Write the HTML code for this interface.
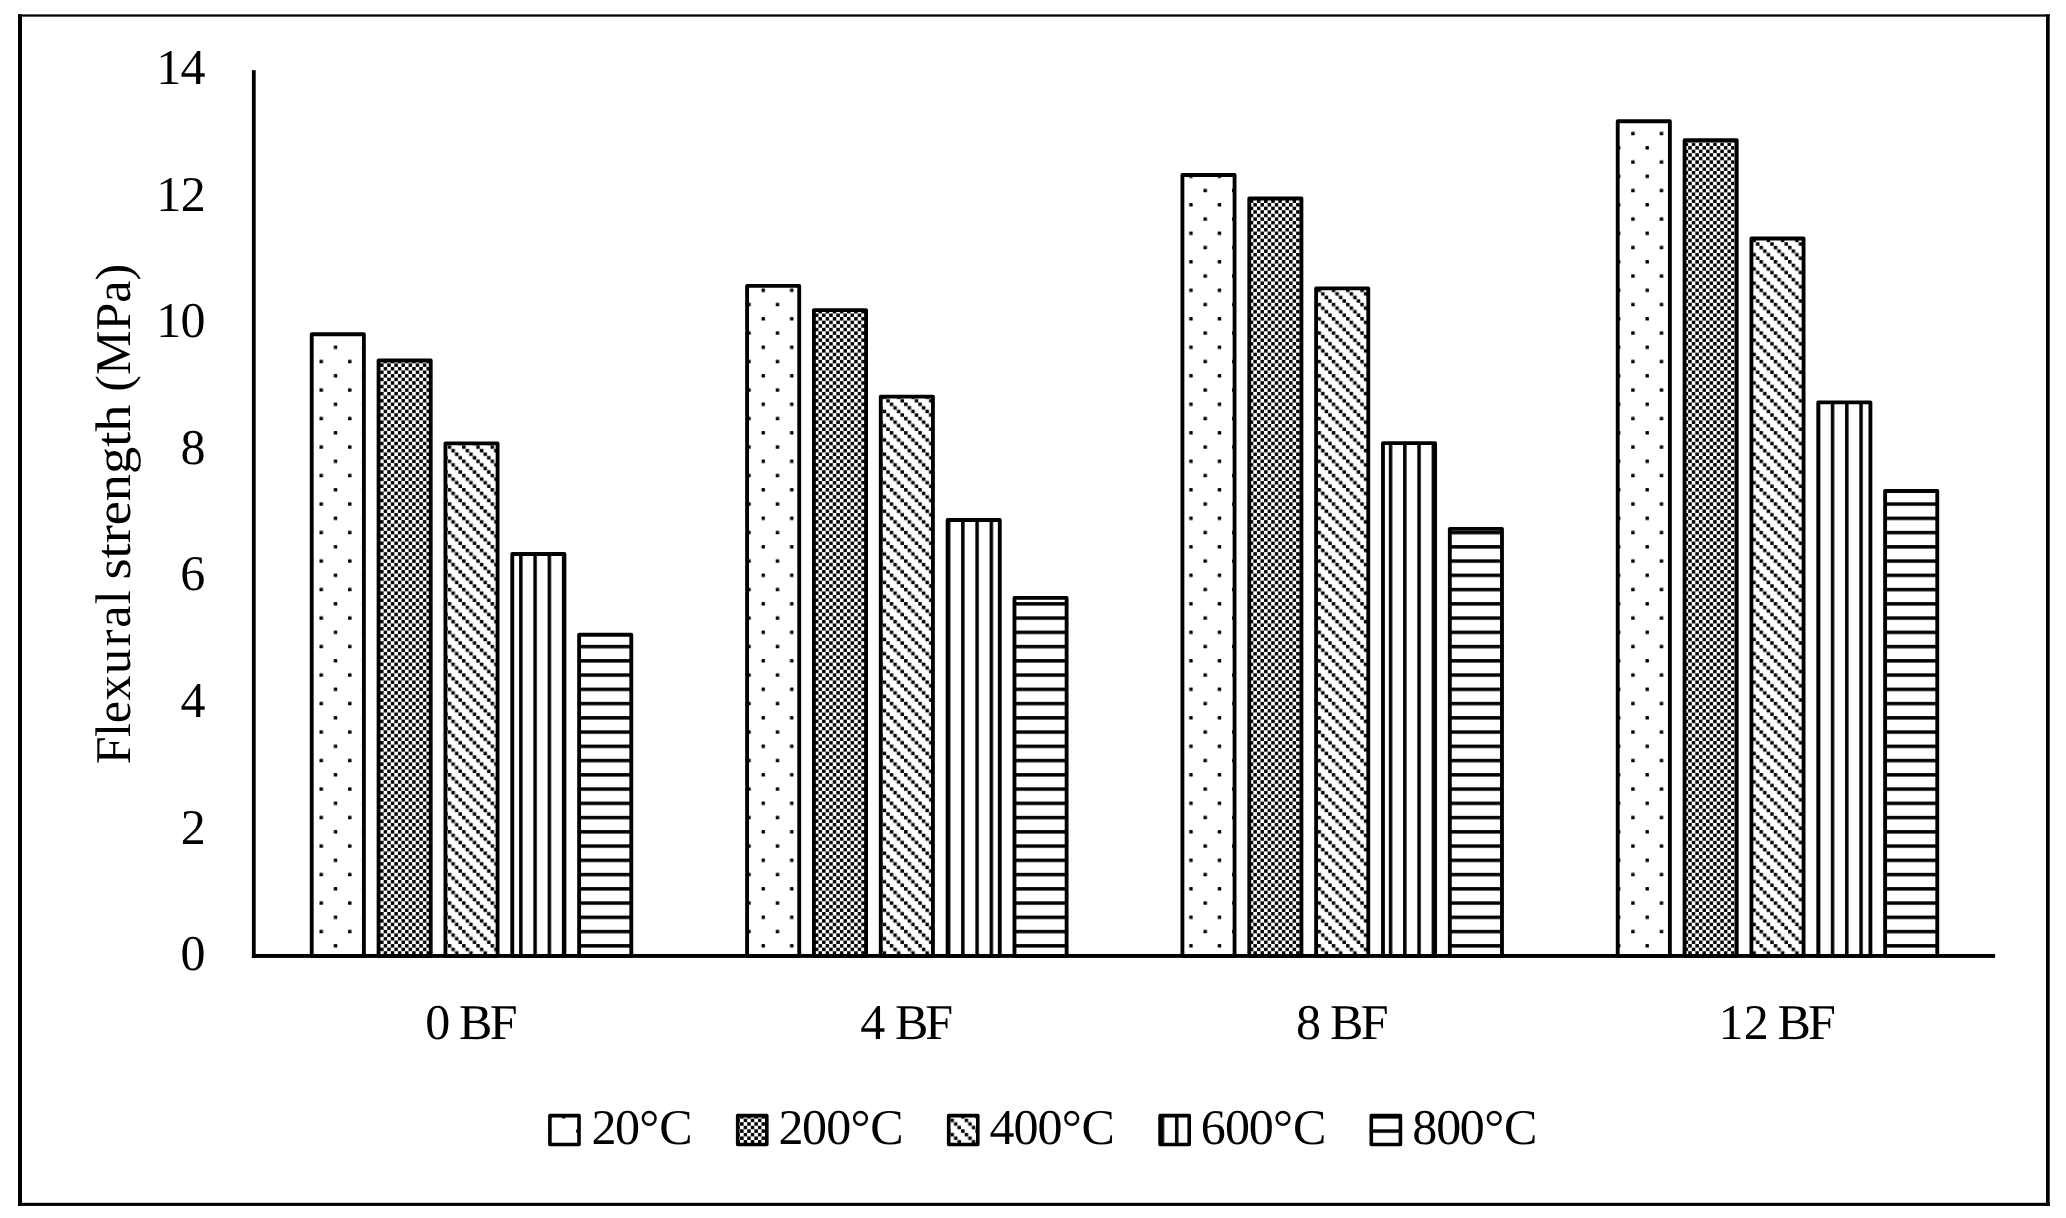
<!DOCTYPE html>
<html lang="en"><head><meta charset="utf-8"><title>Flexural strength chart</title>
<style>html,body{margin:0;padding:0;background:#fff;}svg{display:block;}text{font-family:"Liberation Serif","DejaVu Serif",serif;font-size:50px;fill:#000;text-rendering:geometricPrecision;}</style></head><body>
<svg width="2066" height="1218" viewBox="0 0 2066 1218">
<defs><pattern id="pDot" patternUnits="userSpaceOnUse" x="5.8" y="3.56" width="28.5152" height="28.5"><rect width="28.5152" height="28.5" fill="#fff"/><rect x="14.3148" y="0.0562" width="3.45" height="3.45" rx="0.6" fill="#000"/><rect x="0.0572" y="14.3063" width="3.45" height="3.45" rx="0.6" fill="#000"/></pattern><pattern id="pChk" patternUnits="userSpaceOnUse" x="5.8" y="3.56" width="7.1288" height="7.125"><rect width="7.1288" height="7.125" fill="#fff"/><rect x="0.0572" y="0.0562" width="3.45" height="3.45" fill="#000"/><rect x="3.6216" y="3.6187" width="3.45" height="3.45" fill="#000"/></pattern><pattern id="pDia" patternUnits="userSpaceOnUse" x="5.8" y="3.56" width="14.2576" height="14.25"><rect width="14.2576" height="14.25" fill="#fff"/><rect x="0.0572" y="0.0562" width="3.45" height="3.45" fill="#000"/><rect x="3.6216" y="3.6187" width="3.45" height="3.45" fill="#000"/><rect x="7.186" y="7.1813" width="3.45" height="3.45" fill="#000"/><rect x="10.7504" y="10.7438" width="3.45" height="3.45" fill="#000"/></pattern><pattern id="pVer" patternUnits="userSpaceOnUse" x="5.8" y="3.56" width="14.2576" height="14.25"><rect width="14.2576" height="14.25" fill="#fff"/><rect x="0.06" y="0" width="3.45" height="14.25" fill="#000"/></pattern><pattern id="pHor" patternUnits="userSpaceOnUse" x="5.8" y="3.56" width="14.2576" height="14.25"><rect width="14.2576" height="14.25" fill="#fff"/><rect x="0" y="0.06" width="14.2576" height="3.45" fill="#000"/></pattern></defs>
<rect x="0" y="0" width="2066" height="1218" fill="#fff"/>
<g fill="#000">
<rect x="18" y="14.3" width="4" height="1191.6"/>
<rect x="18" y="14.4" width="2031.7" height="2.25"/>
<rect x="2046" y="14.3" width="3.7" height="1191.6"/>
<rect x="18" y="1202.8" width="2031.7" height="3.1"/>
</g>
<g stroke="#000" stroke-width="3.85" stroke-linejoin="round">
<rect x="311.73" y="334.23" width="52.15" height="621.77" fill="url(#pDot)"/>
<rect x="378.57" y="360.53" width="52.15" height="595.47" fill="url(#pChk)"/>
<rect x="445.43" y="443.32" width="52.15" height="512.67" fill="url(#pDia)"/>
<rect x="512.27" y="554.02" width="52.15" height="401.98" fill="url(#pVer)"/>
<rect x="579.12" y="634.72" width="52.15" height="321.28" fill="url(#pHor)"/>
<rect x="747.08" y="285.88" width="52.15" height="670.12" fill="url(#pDot)"/>
<rect x="813.92" y="310.12" width="52.15" height="645.88" fill="url(#pChk)"/>
<rect x="880.77" y="396.68" width="52.15" height="559.33" fill="url(#pDia)"/>
<rect x="947.62" y="520.02" width="52.15" height="435.98" fill="url(#pVer)"/>
<rect x="1014.47" y="597.92" width="52.15" height="358.08" fill="url(#pHor)"/>
<rect x="1182.42" y="175.03" width="52.15" height="780.98" fill="url(#pDot)"/>
<rect x="1249.28" y="198.53" width="52.15" height="757.48" fill="url(#pChk)"/>
<rect x="1316.12" y="288.32" width="52.15" height="667.67" fill="url(#pDia)"/>
<rect x="1382.97" y="443.12" width="52.15" height="512.88" fill="url(#pVer)"/>
<rect x="1449.83" y="528.88" width="52.15" height="427.12" fill="url(#pHor)"/>
<rect x="1617.72" y="121.22" width="52.15" height="834.77" fill="url(#pDot)"/>
<rect x="1684.58" y="140.23" width="52.15" height="815.77" fill="url(#pChk)"/>
<rect x="1751.42" y="238.53" width="52.15" height="717.48" fill="url(#pDia)"/>
<rect x="1818.27" y="402.38" width="52.15" height="553.62" fill="url(#pVer)"/>
<rect x="1885.12" y="490.99" width="52.15" height="465.01" fill="url(#pHor)"/>
</g>
<rect x="251.9" y="70.15" width="3.8" height="887.75" fill="#000"/>
<rect x="251.9" y="954.0" width="1743.2" height="3.9" fill="#000"/>
<text x="180.5" y="970.1">0</text>
<text x="180.78" y="843.55">2</text>
<text x="180.4" y="717">4</text>
<text x="180.17" y="590.45">6</text>
<text x="180.5" y="463.9">8</text>
<text x="156.2 180.5" y="337.35">10</text>
<text x="156.2 180.78" y="210.8">12</text>
<text x="156.2 180.4" y="84.25">14</text>
<text x="425.15 450.15 459.08 489.78" y="1038.9">0 BF</text>
<text x="860.2 885.2 894.98 925.33" y="1038.9">4 BF</text>
<text x="1296 1321 1330.03 1360.68" y="1038.9">8 BF</text>
<text x="1718.53 1743.68 1768.68 1777.5 1807.88" y="1038.9">12 BF</text>
<g stroke="#000" stroke-width="3.6" stroke-linejoin="round">
<rect x="549.9" y="1115.65" width="29.1" height="28.85" fill="url(#pDot)"/>
<rect x="737.7" y="1115.65" width="29.1" height="28.85" fill="url(#pChk)"/>
<rect x="948.7" y="1115.65" width="29.1" height="28.85" fill="url(#pDia)"/>
<rect x="1160.1" y="1115.65" width="29.1" height="28.85" fill="url(#pVer)"/>
<rect x="1371.3" y="1115.65" width="29.1" height="28.85" fill="url(#pHor)"/>
</g>
<text x="591.46 615.05 639.18 659.13" y="1143.7">20°C</text>
<text x="778.53 802.1 826.2 850.38 870.18" y="1143.7">200°C</text>
<text x="989.53 1013.6 1037.55 1061.68 1081.53" y="1143.7">400°C</text>
<text x="1200.87 1225 1248.82 1272.98 1292.98" y="1143.7">600°C</text>
<text x="1412.3 1436.15 1459.8 1484.13 1503.98" y="1143.7">800°C</text>
<text transform="translate(129.8,0) rotate(-90)"><tspan x="-764.32 -736.9 -723.16 -700.61 -674.05 -646.31 -627.63 -604.2">Flexural</tspan> <tspan x="-579.63" textLength="175.15" lengthAdjust="spacingAndGlyphs">strength</tspan> <tspan x="-391.8" textLength="127.94" lengthAdjust="spacingAndGlyphs">(MPa)</tspan></text>
</svg></body></html>
